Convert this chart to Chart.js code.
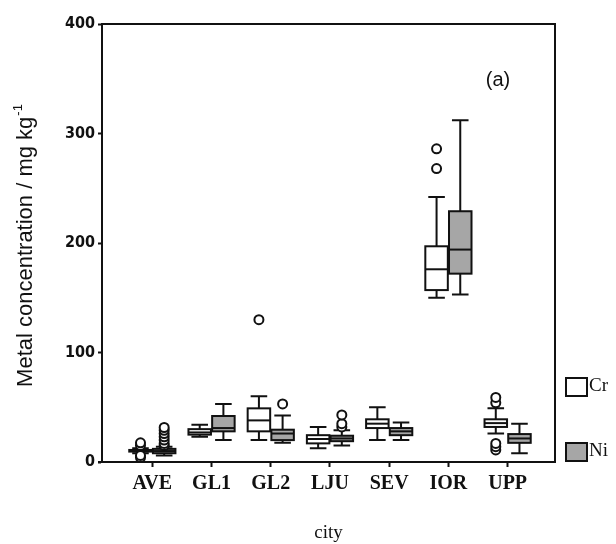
<!DOCTYPE html>
<html><head><meta charset="utf-8">
<script src="https://cdn.jsdelivr.net/npm/chart.js@4.4.0/dist/chart.umd.min.js"></script>
<style>html,body{margin:0;padding:0;background:#fff;} #wrap{width:616px;height:544px;}</style>
</head><body><div id="wrap"><canvas id="c" width="616" height="544"></canvas></div>
<script>
const cities = ['AVE','GL1','GL2','LJU','SEV','IOR','UPP'];
// five-number summaries: [whiskerLow, q1, median, q3, whiskerHigh]
const crStats = [
  [8, 9.5, 10.3, 11, 12.5],
  [23, 25, 27, 30, 34],
  [20, 28, 38, 49, 60],
  [12.5, 17, 21, 24.5, 32],
  [20, 31, 35, 39, 50],
  [150, 157, 176, 197, 242],
  [26, 32, 35.5, 39, 49]
];
const niStats = [
  [6, 8, 10, 12, 14],
  [20, 28, 31, 42, 53],
  [17.5, 20, 26, 29.5, 42.5],
  [15, 19, 21.5, 24, 29],
  [20, 24.5, 28, 31, 36],
  [153, 172, 194, 229, 312],
  [8, 17.5, 21.5, 25.5, 35]
];
const crOutliers = [[4, 6, 15, 17.5], [], [130], [], [], [268, 286], [11, 14, 17, 54, 59]];
const niOutliers = [[15, 17, 20, 23, 26, 29, 31.5], [], [53], [32, 35, 43], [], [], []];
const yTicks = [0, 100, 200, 300, 400];
const seriesNames = ['Cr', 'Ni'];
const seriesFill = ['#ffffff', '#a6a6a6'];

const OFF = 0.2, BOXW = 0.38, CAPW = 0.28;
const INK = '#111';

function outPts(list, sign) {
  const pts = [];
  list.forEach((vals, i) => vals.forEach(v => pts.push({x: i + sign * OFF, y: v})));
  return pts;
}

const boxPlugin = {
  id: 'boxes',
  beforeDatasetsDraw(chart) {
    const ctx = chart.ctx, xs = chart.scales.x, ys = chart.scales.y;
    const draw = (stats, sign, fill) => {
      stats.forEach((s, i) => {
        const c = i + sign * OFF;
        const xl = xs.getPixelForValue(c - BOXW / 2), xr = xs.getPixelForValue(c + BOXW / 2);
        const cl = xs.getPixelForValue(c - CAPW / 2), cr = xs.getPixelForValue(c + CAPW / 2);
        const xc = xs.getPixelForValue(c);
        const [wl, q1, md, q3, wh] = s.map(v => ys.getPixelForValue(v));
        ctx.save();
        ctx.strokeStyle = INK; ctx.lineWidth = 2;
        ctx.beginPath();
        ctx.moveTo(xc, wl); ctx.lineTo(xc, q1);
        ctx.moveTo(xc, q3); ctx.lineTo(xc, wh);
        ctx.moveTo(cl, wl); ctx.lineTo(cr, wl);
        ctx.moveTo(cl, wh); ctx.lineTo(cr, wh);
        ctx.stroke();
        ctx.fillStyle = fill;
        ctx.fillRect(xl, q3, xr - xl, q1 - q3);
        ctx.strokeRect(xl, q3, xr - xl, q1 - q3);
        ctx.beginPath(); ctx.moveTo(xl, md); ctx.lineTo(xr, md); ctx.stroke();
        ctx.restore();
      });
    };
    draw(crStats, -1, seriesFill[0]);
    draw(niStats, 1, seriesFill[1]);
  }
};

const framePlugin = {
  id: 'frame',
  afterDraw(chart) {
    const ctx = chart.ctx, a = chart.chartArea;
    ctx.save();
    ctx.strokeStyle = INK; ctx.lineWidth = 2;
    ctx.beginPath();
    ctx.moveTo(a.left, a.top); ctx.lineTo(a.right, a.top); ctx.lineTo(a.right, a.bottom);
    ctx.moveTo(a.left - 4, a.bottom); ctx.lineTo(a.left, a.bottom);
    ctx.stroke();
    // panel tag
    ctx.fillStyle = INK;
    ctx.font = '20px "Liberation Sans", Arial, sans-serif';
    ctx.textAlign = 'center'; ctx.textBaseline = 'middle';
    ctx.fillText('(a)', 498, 80);
    // y title with superscript
    ctx.translate(26, 246);
    ctx.rotate(-Math.PI / 2);
    const main = 'Metal concentration / mg kg', sup = '-1';
    ctx.font = '22px "Liberation Sans", Arial, sans-serif';
    const w1 = ctx.measureText(main).width;
    ctx.font = '13px "Liberation Sans", Arial, sans-serif';
    const w2 = ctx.measureText(sup).width;
    const x0 = -(w1 + w2) / 2;
    ctx.textAlign = 'left'; ctx.textBaseline = 'middle';
    ctx.font = '22px "Liberation Sans", Arial, sans-serif';
    ctx.fillText(main, x0, 0);
    ctx.font = '13px "Liberation Sans", Arial, sans-serif';
    ctx.fillText(sup, x0 + w1 + 1, -8);
    ctx.restore();
    // legend
    ctx.save();
    const items = [{y: 378}, {y: 443}];
    items.forEach((it, k) => {
      ctx.fillStyle = seriesFill[k];
      ctx.fillRect(566, it.y, 21, 18);
      ctx.strokeStyle = INK; ctx.lineWidth = 2;
      ctx.strokeRect(566, it.y, 21, 18);
      ctx.fillStyle = INK;
      ctx.font = '19px "Liberation Serif", "Times New Roman", serif';
      ctx.textAlign = 'left'; ctx.textBaseline = 'middle';
      ctx.fillText(seriesNames[k], 589, it.y + 8);
    });
    ctx.restore();
  }
};

new Chart(document.getElementById('c').getContext('2d'), {
  type: 'scatter',
  data: {
    datasets: [
      {label: 'Cr', data: outPts(crOutliers, -1), pointRadius: 4.5, pointBorderWidth: 2,
       pointBorderColor: INK, pointBackgroundColor: '#fff', pointHoverRadius: 4.5},
      {label: 'Ni', data: outPts(niOutliers, 1), pointRadius: 4.5, pointBorderWidth: 2,
       pointBorderColor: INK, pointBackgroundColor: '#fff', pointHoverRadius: 4.5}
    ]
  },
  options: {
    responsive: false, animation: false,
    layout: {padding: {left: 0, right: 61, top: 24, bottom: 0}},
    plugins: {legend: {display: false}, tooltip: {enabled: false}},
    scales: {
      x: {
        type: 'linear', min: -0.85, max: 6.8,
        afterBuildTicks: s => { s.ticks = cities.map((c, i) => ({value: i})); },
        ticks: {callback: v => cities[v], color: INK, padding: 5, maxRotation: 0, autoSkip: false,
                font: {family: '"Liberation Serif", "Times New Roman", serif', size: 20, weight: 'bold'}},
        grid: {drawOnChartArea: false, tickLength: 5, tickWidth: 2, color: INK},
        border: {color: INK, width: 2},
        title: {display: true, text: 'city', color: INK, padding: {top: 29, bottom: 0},
                font: {family: '"Liberation Serif", "Times New Roman", serif', size: 19}},
        afterFit: s => { s.height = 82; }
      },
      y: {
        min: 0, max: 400,
        afterBuildTicks: s => { s.ticks = yTicks.map(v => ({value: v})); },
        ticks: {color: INK, padding: 3,
                font: {family: '"DejaVu Sans Condensed", "DejaVu Sans", sans-serif', size: 16, weight: 'bold'}},
        grid: {drawOnChartArea: false, tickLength: 4, tickWidth: 2, color: INK},
        border: {color: INK, width: 2},
        afterFit: s => { s.width = 102; }
      }
    }
  },
  plugins: [boxPlugin, framePlugin]
});
</script>
</body></html>
